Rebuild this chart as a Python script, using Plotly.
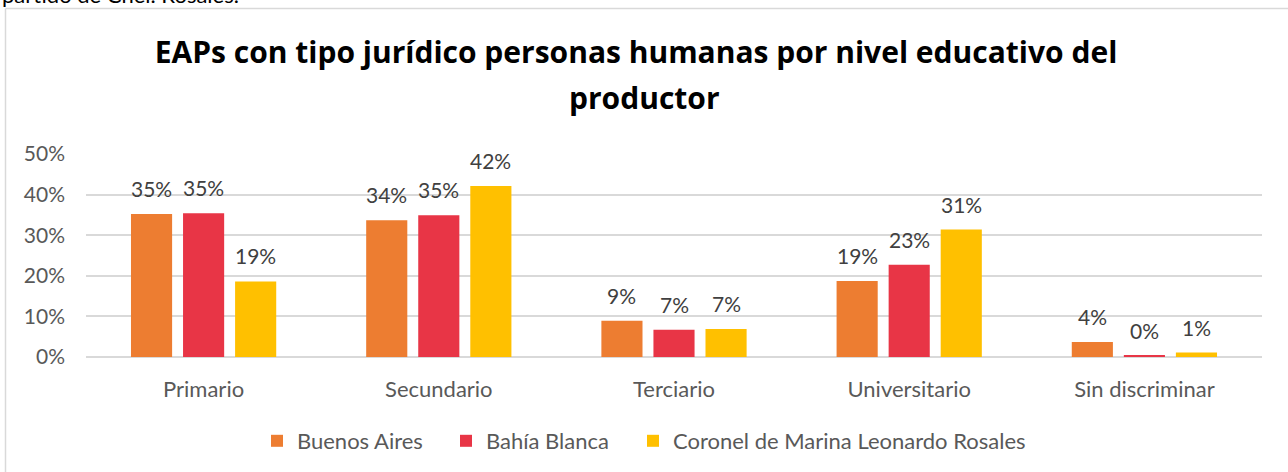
import plotly.graph_objects as go

categories = ["Primario", "Secundario", "Terciario", "Universitario", "Sin discriminar"]
series_names = ["Buenos Aires", "Bahía Blanca", "Coronel de Marina Leonardo Rosales"]
buenos_aires = [0.352, 0.337, 0.089, 0.187, 0.037]
bahia_blanca = [0.354, 0.349, 0.067, 0.227, 0.003]
coronel_rosales = [0.186, 0.421, 0.069, 0.314, 0.011]
colors = ["#ED7D31", "#E83546", "#FFC000"]
y_ticks = [0, 0.1, 0.2, 0.3, 0.4, 0.5]
title_line1 = "EAPs con tipo jurídico personas humanas por nivel educativo del"
title_line2 = "productor"

FONT = "Lato, Open Sans, sans-serif"
TFONT = "Open Sans, Lato, sans-serif"
W, H = 1288, 472
ML, MR, MT, MB = 86, 26, 154, 115
pw, ph = W - ML - MR, H - MT - MB


def px_x(p):
    return (p - ML) / pw


def px_y(p):
    return (H - MB - p) / ph


fig = go.Figure()
all_series = [buenos_aires, bahia_blanca, coronel_rosales]
legend_ids = ["legend", "legend2", "legend3"]
legend_left_px = [257, 446, 633]
for name, vals, col, lid in zip(series_names, all_series, colors, legend_ids):
    fig.add_trace(go.Bar(x=categories, y=vals, name=name, marker_color=col,
                         marker_line_width=0, legend=lid, showlegend=True))

annotations = []
BARGAP = 0.336
slot = pw / len(categories) * (1 - BARGAP) / 3
for i, vals in enumerate(all_series):
    for c, v in zip(categories, vals):
        annotations.append(dict(x=c, y=v, xref="x", yref="y", text=f"{round(v*100):.0f}%",
                                showarrow=False, xshift=(i - 1) * slot, yanchor="bottom", yshift=11,
                                font=dict(family=FONT, size=21, color="#404040")))
# second title line
annotations.append(dict(x=px_x(644), y=px_y(98), xref="paper", yref="paper", xanchor="center",
                        yanchor="middle", text=title_line2, showarrow=False,
                        font=dict(family=TFONT, size=30, color="#000000", weight="bold")))
# text of the page above the chart, cut off at the top edge
annotations.append(dict(x=px_x(0), y=px_y(10), xref="paper", yref="paper", xanchor="left",
                        yanchor="bottom", text="partido de Cnel. Rosales.",
                        showarrow=False, font=dict(family=FONT, size=22, color="#000000")))

shapes = [
    dict(type="line", xref="paper", yref="paper", x0=px_x(5.5), x1=px_x(5.5), y0=px_y(8.5),
         y1=px_y(480), line=dict(color="#D9D9D9", width=1.5)),
    dict(type="line", xref="paper", yref="paper", x0=px_x(5.5), x1=px_x(1300), y0=px_y(8.5),
         y1=px_y(8.5), line=dict(color="#D9D9D9", width=1.5)),
]

legend_layouts = {}
for lid, lx in zip(legend_ids, legend_left_px):
    legend_layouts[lid] = dict(orientation="h", x=px_x(lx), xanchor="left", y=px_y(441),
                               yanchor="middle", font=dict(size=22, color="#595959"),
                               itemwidth=30, bgcolor="rgba(0,0,0,0)", visible=True)

fig.update_layout(
    width=W, height=H,
    showlegend=True,
    margin=dict(l=ML, r=MR, t=MT, b=MB, autoexpand=False),
    paper_bgcolor="white", plot_bgcolor="white",
    barmode="group", bargap=BARGAP, bargroupgap=0.21,
    title=dict(text=title_line1, x=636 / W, xref="container", xanchor="center",
               y=1 - 52 / H, yanchor="middle",
               font=dict(family=TFONT, size=30, color="#000000", weight="bold")),
    font=dict(family=FONT, size=17, color="#595959"),
    xaxis=dict(showgrid=False, showline=False, ticks="", zeroline=False,
               tickfont=dict(size=22, color="#595959"), ticklabelstandoff=17),
    yaxis=dict(range=[0, 0.5], tickvals=y_ticks, tickformat=".0%", showgrid=True,
               gridcolor="#D9D9D9", gridwidth=1.5, zeroline=True, zerolinecolor="#D9D9D9",
               zerolinewidth=1.5, showline=False, ticks="", ticklabelstandoff=20,
               tickfont=dict(size=21, color="#595959")),
    annotations=annotations,
    shapes=shapes,
    **legend_layouts,
)

fig.write_html("out.html", config={"displayModeBar": False},
               post_script="document.body.style.margin='0px';")
